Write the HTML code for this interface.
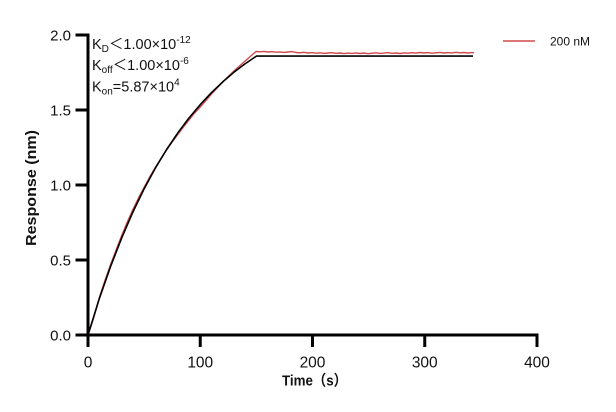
<!DOCTYPE html>
<html>
<head>
<meta charset="utf-8">
<style>
  html,body{margin:0;padding:0;background:#fff;}
  svg{display:block;}
  text{font-family:"Liberation Sans","Noto Sans CJK SC",sans-serif;fill:#111;}
</style>
</head>
<body>
<svg width="616" height="412" viewBox="0 0 616 412" xmlns="http://www.w3.org/2000/svg">
  <rect width="616" height="412" fill="#fff"/>

  <!-- axes -->
  <g stroke="#000" stroke-width="3" fill="none">
    <line x1="88" y1="33.5" x2="88" y2="336.5"/>
    <line x1="75.5" y1="335" x2="538.5" y2="335"/>
    <!-- y ticks -->
    <line x1="75.5" y1="35" x2="88" y2="35"/>
    <line x1="75.5" y1="110" x2="88" y2="110"/>
    <line x1="75.5" y1="185" x2="88" y2="185"/>
    <line x1="75.5" y1="260" x2="88" y2="260"/>
    <!-- x ticks -->
    <line x1="88" y1="335" x2="88" y2="347"/>
    <line x1="200.25" y1="335" x2="200.25" y2="347"/>
    <line x1="312.5" y1="335" x2="312.5" y2="347"/>
    <line x1="424.75" y1="335" x2="424.75" y2="347"/>
    <line x1="537" y1="335" x2="537" y2="347"/>
  </g>

  <!-- y tick labels -->
  <g font-size="15" text-anchor="end">
    <text x="71" y="40.5">2.0</text>
    <text x="71" y="115.5">1.5</text>
    <text x="71" y="190.5">1.0</text>
    <text x="71" y="265.5">0.5</text>
    <text x="71" y="340.5">0.0</text>
  </g>

  <!-- x tick labels -->
  <g font-size="15.5" text-anchor="middle">
    <text x="88" y="367.3">0</text>
    <text x="200.25" y="367.3">100</text>
    <text x="312.5" y="367.3">200</text>
    <text x="424.75" y="367.3">300</text>
    <text x="537" y="367.3">400</text>
  </g>

  <!-- axis titles -->
  <text x="282" y="385.5" font-size="15" font-weight="bold" textLength="65" lengthAdjust="spacingAndGlyphs">Time（s）</text>
  <text transform="translate(36,188) rotate(-90)" font-size="15" font-weight="bold" text-anchor="middle" textLength="116" lengthAdjust="spacingAndGlyphs">Response (nm)</text>

  <!-- annotation -->
  <g font-size="14.5">
    <text x="92" y="49">K<tspan font-size="10" dy="3">D</tspan><tspan dy="-3">＜1.00×10</tspan><tspan font-size="10" dy="-6">-12</tspan></text>
    <text x="92" y="70">K<tspan font-size="10" dy="3">off</tspan><tspan dy="-3">＜1.00×10</tspan><tspan font-size="10" dy="-6">-6</tspan></text>
    <text x="92" y="91.5">K<tspan font-size="10" dy="3">on</tspan><tspan dy="-3">=5.87×10</tspan><tspan font-size="10" dy="-6">4</tspan></text>
  </g>

  <!-- legend -->
  <line x1="503" y1="41" x2="535" y2="41" stroke="#d04a4c" stroke-width="1.5"/>
  <text x="550" y="45.3" font-size="12">200 nM</text>

  <!-- red data -->
  <polyline fill="none" stroke="#d04a4c" stroke-width="1.4" stroke-linejoin="round"
    points="88,335 93.6,318 99.2,298 104.8,281 110.45,265 116.1,250 121.7,235.5 127.3,222 132.9,209.5 138.5,198 144.1,187.5 149.7,177 155.35,167.5 161,158.5 166.6,150 172.2,142 177.8,134.5 183.4,127 189,120 194.6,113 200.25,107 205.9,100.5 211.5,94 217.1,88 222.7,82 228.3,76.5 233.9,71 239.5,66 245.15,61 250.8,56 256,51.5 260,51.8 264,51.4 268,52.0 272,51.7 276,52.2 280,51.9 284,52.4 288,52.0 292,51.6 296,52.5 300,52.8 304,52.3 308,53.0 312,52.6 316,53.2 320,52.8 324,53.4 328,53.0 332,52.7 336,53.3 340,53.0 344,53.6 348,53.1 352,53.4 356,52.9 360,53.5 364,53.0 368,53.7 372,53.2 376,52.8 380,53.4 384,53.1 388,52.6 392,53.3 396,53.0 400,53.5 404,52.9 408,53.2 412,52.7 416,53.1 420,52.5 424,53.0 428,52.6 432,53.2 436,52.8 440,52.4 444,53.0 448,52.6 452,52.9 456,52.3 460,52.8 464,52.5 468,53.0 472,52.6 474,52.8"/>

  <!-- black fit -->
  <polyline fill="none" stroke="#000" stroke-width="1.6" stroke-linejoin="round"
    points="88,335 99.2,299 110.45,266.8 121.7,237.9 132.9,212 144.1,188.9 155.35,168.1 166.6,149.5 177.8,132.9 189,118 200.25,104.6 211.5,92.6 222.7,81.9 233.9,72.3 245.15,63.75 256.4,56.1 473,56.1"/>
</svg>
</body>
</html>
